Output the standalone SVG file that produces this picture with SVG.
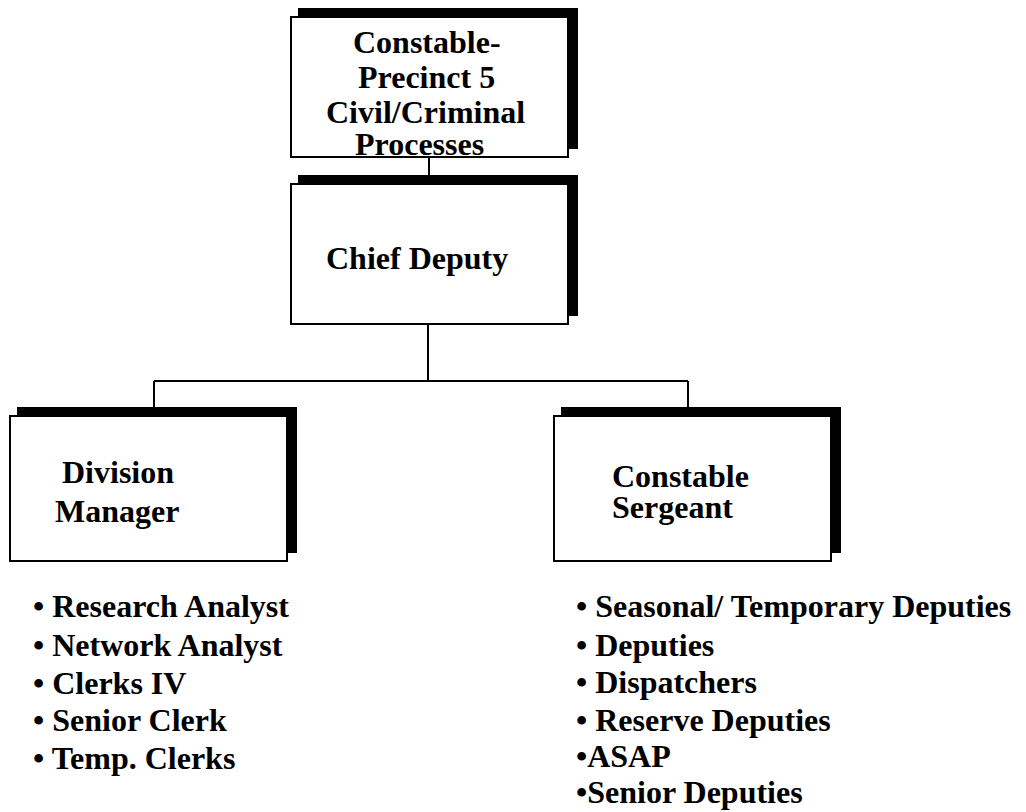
<svg xmlns="http://www.w3.org/2000/svg" width="1026" height="812" viewBox="0 0 1026 812">
<style>
.box{fill:#fff;stroke:#000;stroke-width:2}
.sh{fill:#000}
.t{font-family:"Liberation Serif","Times New Roman",serif;font-weight:bold;font-size:32px;fill:#000}
.c{stroke:#000;stroke-width:2;fill:none}
</style>
<rect width="1026" height="812" fill="#fff"/>
<g id="connectors">
<line class="c" x1="429" y1="157" x2="429" y2="176"/>
<line class="c" x1="428" y1="324" x2="428" y2="381"/>
<line class="c" x1="154" y1="381" x2="688" y2="381"/>
<line class="c" x1="154" y1="381" x2="154" y2="408"/>
<line class="c" x1="688" y1="381" x2="688" y2="408"/>
</g>
<g id="constable">
<rect class="sh" x="298" y="8" width="280" height="141"/>
<rect class="box" x="291" y="17" width="277" height="140"/>
<text class="t" x="353" y="53">Constable-</text>
<text class="t" x="358" y="88">Precinct 5</text>
<text class="t" x="326" y="123">Civil/Criminal</text>
<text class="t" x="355" y="155">Processes</text>
</g>
<g id="chief-deputy">
<rect class="sh" x="298" y="175" width="280" height="141"/>
<rect class="box" x="291" y="184" width="277" height="140"/>
<text class="t" x="326" y="269">Chief Deputy</text>
</g>
<g id="division-manager">
<rect class="sh" x="17" y="407" width="280" height="146"/>
<rect class="box" x="10" y="416" width="277" height="145"/>
<text class="t" x="62" y="483">Division</text>
<text class="t" x="55" y="522">Manager</text>
</g>
<g id="constable-sergeant">
<rect class="sh" x="561" y="407" width="280" height="146"/>
<rect class="box" x="554" y="416" width="277" height="145"/>
<text class="t" x="612" y="487">Constable</text>
<text class="t" x="612" y="518">Sergeant</text>
</g>
<g id="division-list">
<text class="t" x="33" y="617">• Research Analyst</text>
<text class="t" x="33" y="656">• Network Analyst</text>
<text class="t" x="33" y="694">• Clerks IV</text>
<text class="t" x="33" y="731">• Senior Clerk</text>
<text class="t" x="33" y="769">• Temp. Clerks</text>
</g>
<g id="sergeant-list">
<text class="t" x="576" y="617">• Seasonal/ Temporary Deputies</text>
<text class="t" x="576" y="656">• Deputies</text>
<text class="t" x="576" y="693">• Dispatchers</text>
<text class="t" x="576" y="731">• Reserve Deputies</text>
<text class="t" x="576" y="767">•ASAP</text>
<text class="t" x="576" y="803">•Senior Deputies</text>
</g>
</svg>
